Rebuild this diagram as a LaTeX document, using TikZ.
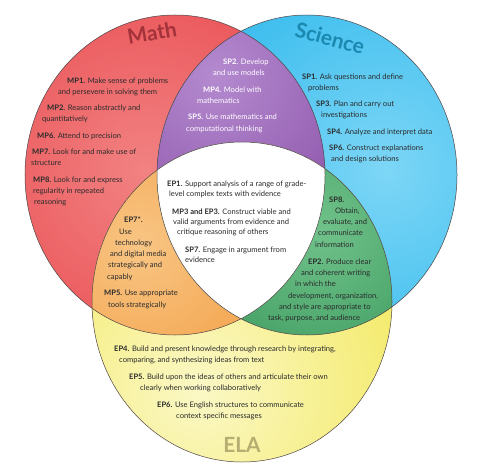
\documentclass[tikz,border=0pt]{standalone}
\usepackage{fontspec}
\setmainfont{Lato}
\definecolor{redin}{HTML}{F28282}
\definecolor{redout}{HTML}{E5343B}
\definecolor{bluein}{HTML}{7DD6F6}
\definecolor{blueout}{HTML}{14AEE9}
\definecolor{yelin}{HTML}{FBF8C6}
\definecolor{yelout}{HTML}{F0E33A}
\definecolor{purin}{HTML}{B48ACF}
\definecolor{purout}{HTML}{7A3A98}
\definecolor{orin}{HTML}{F8C584}
\definecolor{orout}{HTML}{F18F2A}
\definecolor{grin}{HTML}{70C28A}
\definecolor{grout}{HTML}{23874A}
\definecolor{txtc}{HTML}{2B2B2B}
\definecolor{edgec}{HTML}{4E4444}
\definecolor{mathc}{HTML}{A3323A}
\definecolor{scic}{HTML}{1B88B0}
\definecolor{elac}{HTML}{B6AD70}
\tikzset{
  txt/.style={anchor=base west, inner sep=0pt, font=\fontsize{7.6}{9}\selectfont, text=txtc},
  wtxt/.style={txt, text=white},
  title/.style={inner sep=0pt, font=\fontsize{21}{23}\selectfont\bfseries},
  rim/.style={draw=edgec, line width=0.5pt}
}
\begin{document}
\begin{tikzpicture}[x=1bp,y=-1bp]
\useasboundingbox (0,0) rectangle (479,470);
\fill[white] (0,0) rectangle (479,470);
% base circles
\begin{scope}
  \clip (175,175) ellipse [x radius=150bp, y radius=160bp];
  \shade[inner color=redin, outer color=redout] (145,170) circle [radius=330bp];
\end{scope}
\begin{scope}
  \clip (307,175) ellipse [x radius=150bp, y radius=160bp];
  \shade[inner color=bluein, outer color=blueout] (385,170) circle [radius=330bp];
\end{scope}
\begin{scope}
  \clip (242,302) ellipse [x radius=150bp, y radius=160bp];
  \shade[inner color=yelin, outer color=yelout] (200,390) circle [radius=330bp];
\end{scope}
% purple
\begin{scope}
  \clip (175,175) ellipse [x radius=150bp, y radius=160bp];
  \clip (307,175) ellipse [x radius=150bp, y radius=160bp];
  \shade[inner color=purin, outer color=purout] (215,75) circle [radius=260bp];
\end{scope}
% orange
\begin{scope}
  \clip (175,175) ellipse [x radius=150bp, y radius=160bp];
  \clip (242,302) ellipse [x radius=150bp, y radius=160bp];
  \shade[inner color=orin, outer color=orout] (140,245) circle [radius=240bp];
\end{scope}
% green
\begin{scope}
  \clip (307,175) ellipse [x radius=150bp, y radius=160bp];
  \clip (242,302) ellipse [x radius=150bp, y radius=160bp];
  \shade[inner color=grin, outer color=grout] (320,230) circle [radius=240bp];
\end{scope}
% white
\begin{scope}
  \clip (175,175) ellipse [x radius=150bp, y radius=160bp];
  \clip (307,175) ellipse [x radius=150bp, y radius=160bp];
  \fill[white] (242,302) ellipse [x radius=150bp, y radius=160bp];
\end{scope}
% outlines
\draw[rim] (175,175) ellipse [x radius=150bp, y radius=160bp];
\draw[rim] (307,175) ellipse [x radius=150bp, y radius=160bp];
\draw[rim] (242,302) ellipse [x radius=150bp, y radius=160bp];
% titles
\node[title, text=mathc, rotate=10] (tmath) at (152,33) {Math};
\node[title, text=scic, rotate=-15] (tsci) at (330,38) {Science};
\node[title, text=elac] (tela) at (242,445) {ELA};
% texts
\begin{scope}[yshift=-2.5bp]
% math
\node[txt] (mp1a) at (67,81) {\textbf{MP1.} Make sense of problems};
\node[txt] (mp1b) at (58,92) {and persevere in solving them};
\node[txt] (mp2a) at (47,108) {\textbf{MP2.} Reason abstractly and};
\node[txt] (mp2b) at (42,119) {quantitatively};
\node[txt] (mp6) at (37,136) {\textbf{MP6.} Attend to precision};
\node[txt] (mp7a) at (32,152) {\textbf{MP7.} Look for and make use of};
\node[txt] (mp7b) at (31,163) {structure};
\node[txt] (mp8a) at (33,180) {\textbf{MP8.} Look for and express};
\node[txt] (mp8b) at (33,191) {regularity in repeated};
\node[txt] (mp8c) at (34,202) {reasoning};
% purple
\node[wtxt] (sp2a) at (223,62) {\textbf{SP2.} Develop};
\node[wtxt] (sp2b) at (213,73) {and use models};
\node[wtxt] (mp4a) at (203,90) {\textbf{MP4.} Model with};
\node[wtxt] (mp4b) at (197,101) {mathematics};
\node[wtxt] (sp5a) at (188,117) {\textbf{SP5.} Use mathematics and};
\node[wtxt] (sp5b) at (186,129) {computational thinking};
% science
\node[txt] (sp1a) at (302,77) {\textbf{SP1.} Ask questions and define};
\node[txt] (sp1b) at (308,88) {problems};
\node[txt] (sp3a) at (316,104) {\textbf{SP3.} Plan and carry out};
\node[txt] (sp3b) at (321,115) {investigations};
\node[txt] (sp4) at (327,132) {\textbf{SP4.} Analyze and interpret data};
\node[txt] (sp6a) at (329,148) {\textbf{SP6.} Construct explanations};
\node[txt] (sp6b) at (331,159) {and design solutions};
% center
\node[txt] (ep1a) at (167,184) {\textbf{EP1.} Support analysis of a range of grade-};
\node[txt] (ep1b) at (169,194) {level complex texts with evidence};
\node[txt] (mp3a) at (172,212) {\textbf{MP3 and EP3.} Construct viable and};
\node[txt] (mp3b) at (173,222) {valid arguments from evidence and};
\node[txt] (mp3c) at (177,232) {critique reasoning of others};
\node[txt] (sp7a) at (185,250) {\textbf{SP7.} Engage in argument from};
\node[txt] (sp7b) at (185,260) {evidence};
% orange
\node[txt] (ep7a) at (124,220) {\textbf{EP7*.}};
\node[txt] (ep7b) at (119,232) {Use};
\node[txt] (ep7c) at (115,243) {technology};
\node[txt] (ep7d) at (110,254) {and digital media};
\node[txt] (ep7e) at (108,265) {strategically and};
\node[txt] (ep7f) at (107,277) {capably};
\node[txt] (mp5a) at (104,293) {\textbf{MP5.} Use appropriate};
\node[txt] (mp5b) at (108,305) {tools strategically};
% green
\node[txt] (sp8a) at (329,200) {\textbf{SP8.}};
\node[txt] (sp8b) at (335,211) {Obtain,};
\node[txt] (sp8c) at (323,222) {evaluate, and};
\node[txt] (sp8d) at (318,233) {communicate};
\node[txt] (sp8e) at (315,245) {information};
\node[txt] (ep2a) at (308,262) {\textbf{EP2.} Produce clear};
\node[txt] (ep2b) at (301,273) {and coherent writing};
\node[txt] (ep2c) at (295,284) {in which the};
\node[txt] (ep2d) at (288,296) {development, organization,};
\node[txt] (ep2e) at (279,307) {and style are appropriate to};
\node[txt] (ep2f) at (268,318) {task, purpose, and audience};
% yellow
\node[txt] (ep4a) at (114,349) {\textbf{EP4.} Build and present knowledge through research by integrating,};
\node[txt] (ep4b) at (119,360) {comparing, and synthesizing ideas from text};
\node[txt] (ep5a) at (129,377) {\textbf{EP5.} Build upon the ideas of others and articulate their own};
\node[txt] (ep5b) at (140,388) {clearly when working collaboratively};
\node[txt] (ep6a) at (157,405) {\textbf{EP6.} Use English structures to communicate};
\node[txt] (ep6b) at (176,416) {context specific messages};
\end{scope}
\end{tikzpicture}
\end{document}
